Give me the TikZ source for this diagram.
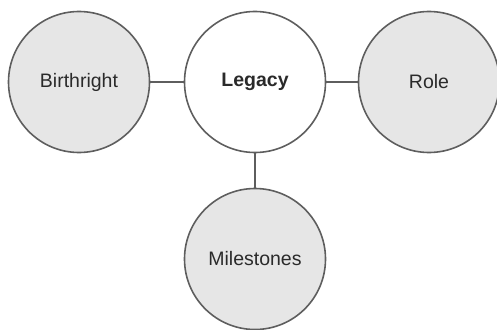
\documentclass[tikz,border=0pt]{standalone}
\usepackage{fontspec}
\setmainfont{Liberation Sans}
\definecolor{ringgray}{HTML}{5E5E5E}
\definecolor{discgray}{HTML}{E6E6E6}
\definecolor{inkgray}{HTML}{2A2A2A}
\tikzset{
    disc/.style={circle,draw=ringgray,line width=1.6pt,fill=discgray,minimum size=141pt,inner sep=0pt,text=inkgray,font=\fontsize{19.5}{22}\selectfont},
    hub/.style={disc,fill=white,font=\fontsize{19.5}{22}\selectfont\bfseries},
    link/.style={draw=ringgray,line width=1.6pt}
}
\begin{document}
\begin{tikzpicture}[x=1pt,y=-1pt]
        \useasboundingbox (0,0) rectangle (497,329);
        \node[hub] (legacy) at (255,82) {Legacy};
        \node[disc] (birthright) at (79,82) {Birthright};
        \node[disc] (role) at (429,82) {Role};
        \node[disc] (milestones) at (255,259) {Milestones};
        \draw[link] (birthright) -- (legacy);
        \draw[link] (legacy) -- (role);
        \draw[link] (legacy) -- (milestones);
    \end{tikzpicture}
\end{document}
